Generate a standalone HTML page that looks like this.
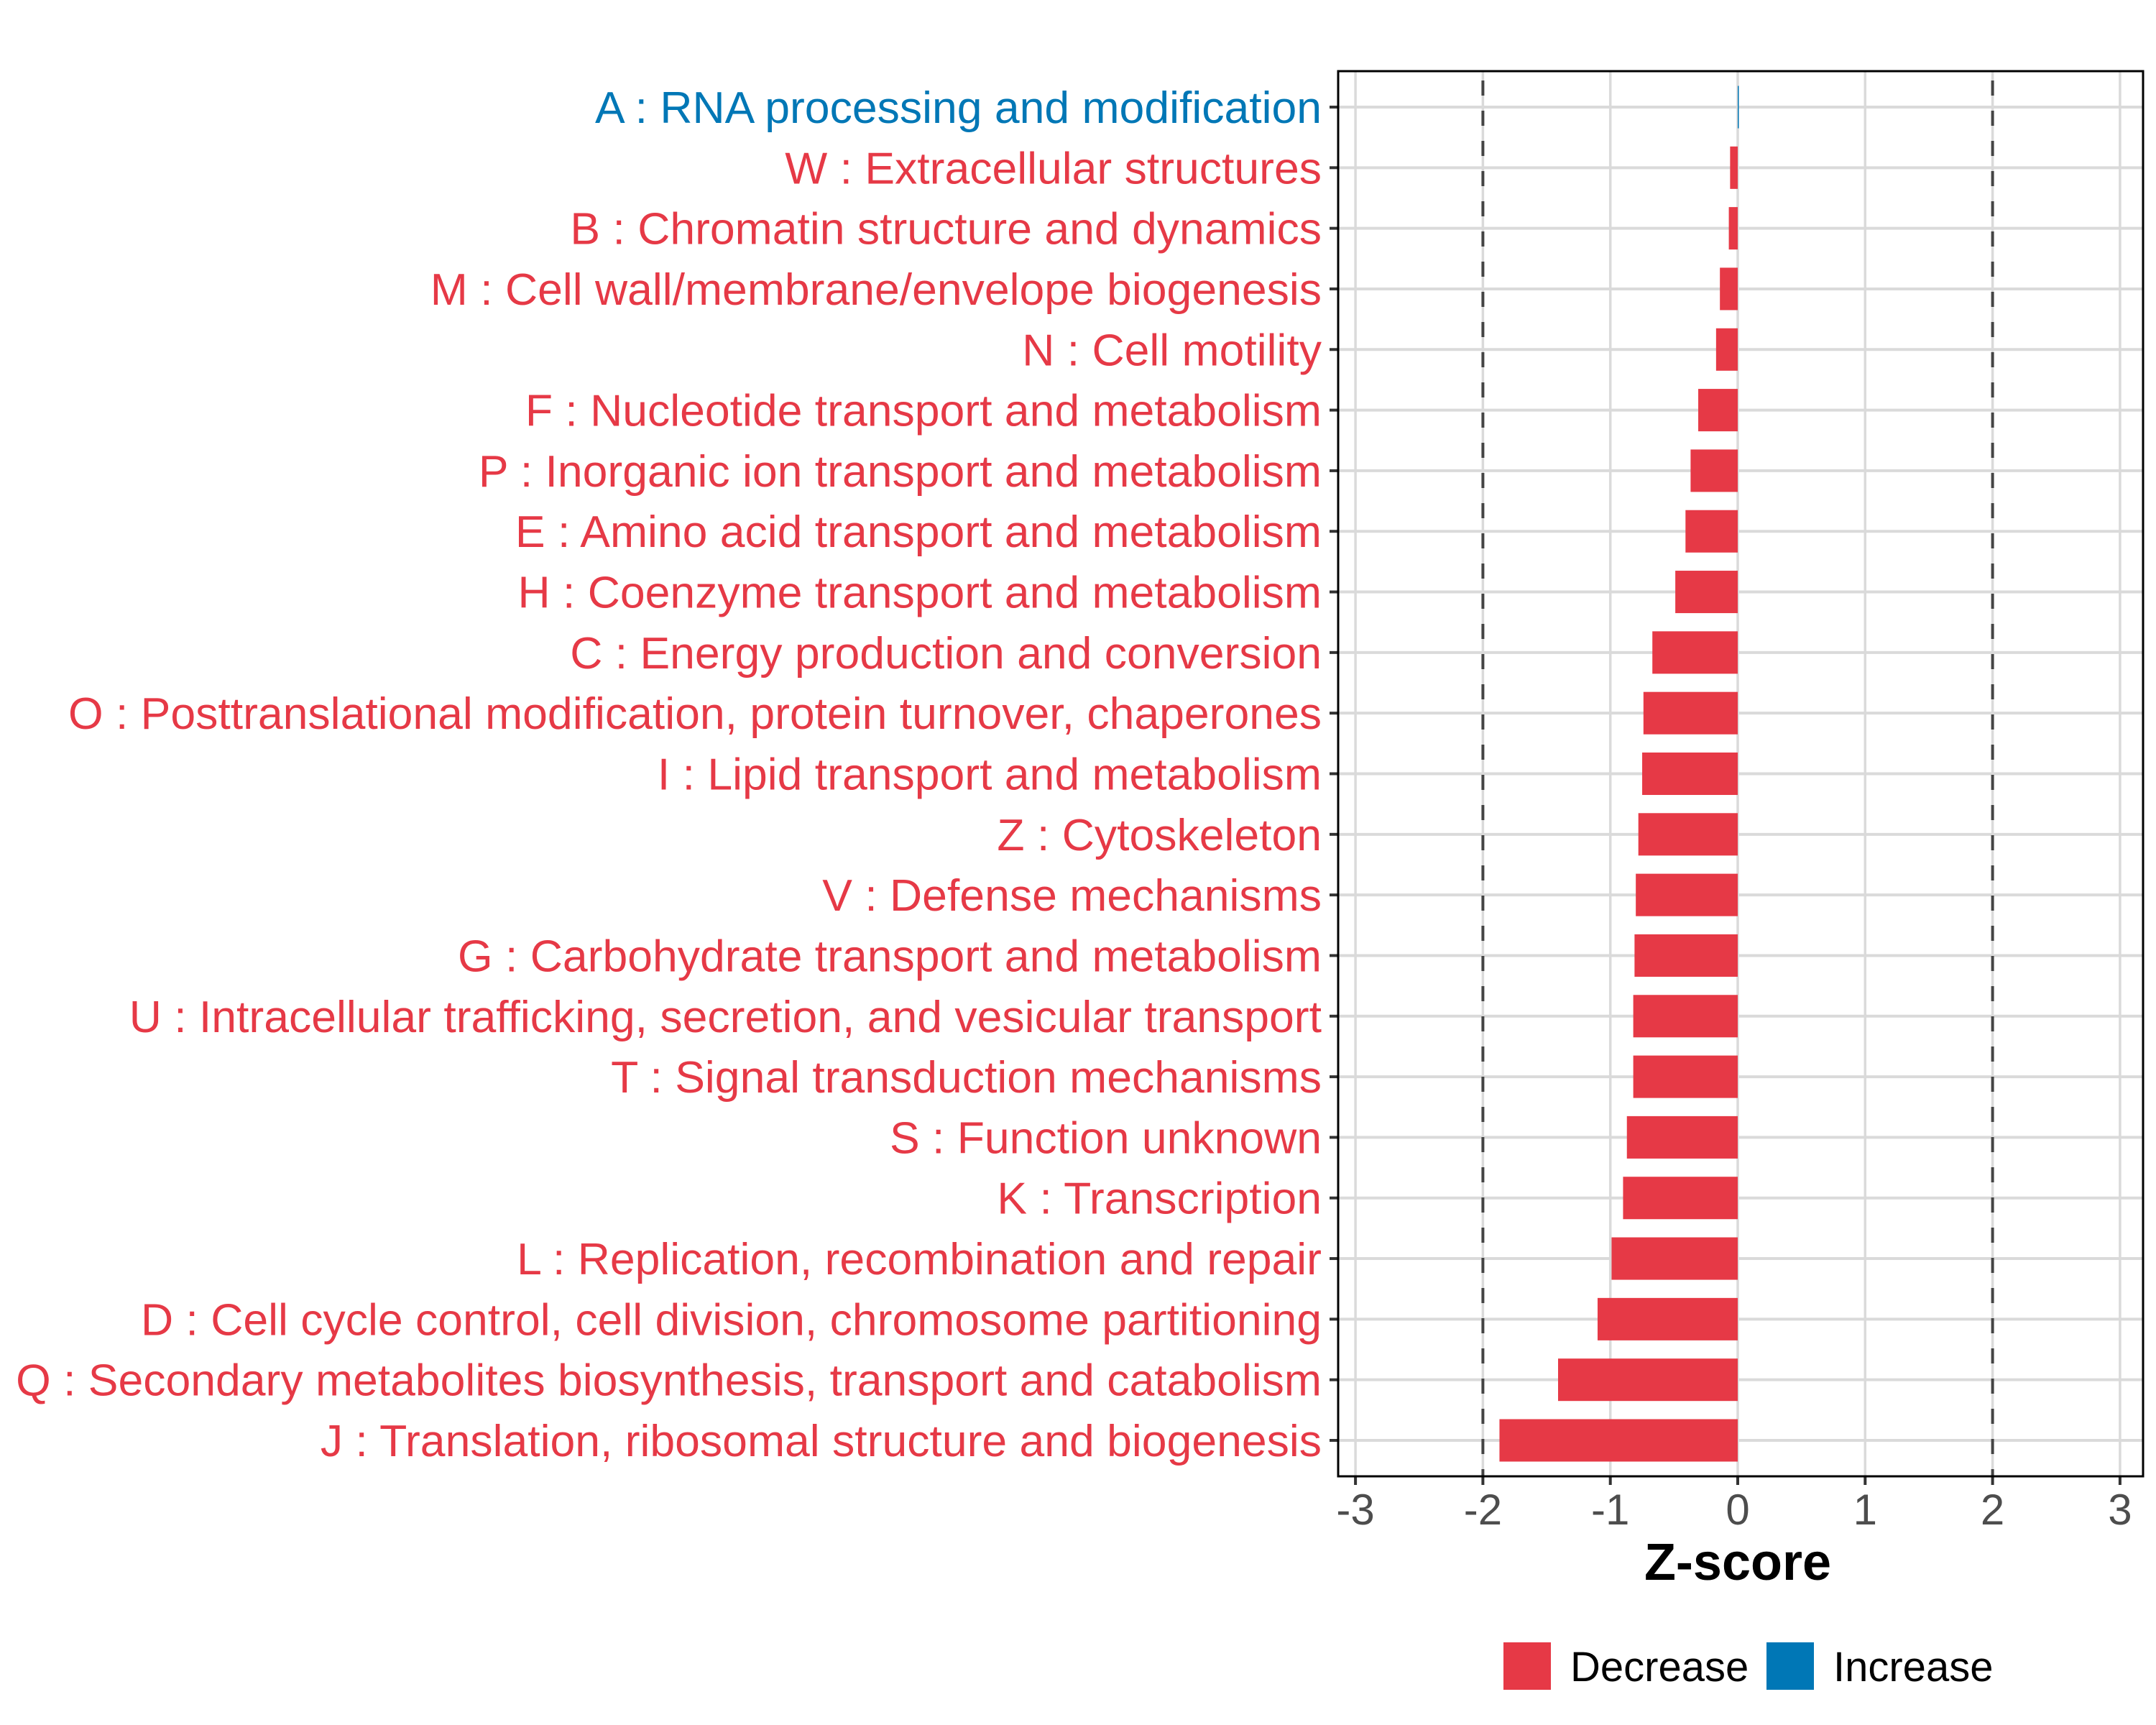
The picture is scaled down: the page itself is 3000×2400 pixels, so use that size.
<!DOCTYPE html>
<html><head><meta charset="utf-8"><style>
html,body{margin:0;padding:0;background:#fff;}
svg{display:block;font-family:"Liberation Sans",Arial,sans-serif;}
</style></head><body>
<svg id="chart" width="3000" height="2400" viewBox="0 0 3000 2400">
<g id="grid"></g>
<g id="bars"></g>
<g id="ylabels"></g>
<g id="xaxis"></g>
<text x="2418" y="2198" text-anchor="middle" font-size="72" font-weight="bold" fill="#000">Z-score</text>
<g>
<rect x="2092" y="2285" width="66" height="66" fill="#E63946"/>
<text x="2185" y="2339" font-size="58" fill="#000">Decrease</text>
<rect x="2458" y="2285" width="66" height="66" fill="#0077B6"/>
<text x="2551" y="2339" font-size="58" fill="#000">Increase</text>
</g>
</svg>
<script>
const categories = ["A : RNA processing and modification","W : Extracellular structures","B : Chromatin structure and dynamics","M : Cell wall/membrane/envelope biogenesis","N : Cell motility","F : Nucleotide transport and metabolism","P : Inorganic ion transport and metabolism","E : Amino acid transport and metabolism","H : Coenzyme transport and metabolism","C : Energy production and conversion","O : Posttranslational modification, protein turnover, chaperones","I : Lipid transport and metabolism","Z : Cytoskeleton","V : Defense mechanisms","G : Carbohydrate transport and metabolism","U : Intracellular trafficking, secretion, and vesicular transport","T : Signal transduction mechanisms","S : Function unknown","K : Transcription","L : Replication, recombination and repair","D : Cell cycle control, cell division, chromosome partitioning","Q : Secondary metabolites biosynthesis, transport and catabolism","J : Translation, ribosomal structure and biogenesis"];
const zscores = [0.005,-0.06,-0.07,-0.14,-0.17,-0.31,-0.37,-0.41,-0.49,-0.67,-0.74,-0.75,-0.78,-0.80,-0.81,-0.82,-0.82,-0.87,-0.90,-0.99,-1.10,-1.41,-1.87];
const xTicks = [-3,-2,-1,0,1,2,3];
const xTickLabels = ["-3","-2","-1","0","1","2","3"];
const thresholds = [-2,2];

const NS="http://www.w3.org/2000/svg";
const P={left:1862,right:2982,top:99,bottom:2054};
const x0=2418, unit=177.3;
function xs(v){return x0+v*unit;}
const rowTop=149, rowStep=(2004-149)/(categories.length-1);
function ys(i){return rowTop+i*rowStep;}
function mk(tag,attrs,parent){const e=document.createElementNS(NS,tag);for(const k in attrs)e.setAttribute(k,attrs[k]);parent.appendChild(e);return e;}
const svg=document.getElementById('chart');
const grid=document.getElementById('grid'), bars=document.getElementById('bars'), yl=document.getElementById('ylabels'), xa=document.getElementById('xaxis');

categories.forEach((c,i)=>{
  const l=mk('line',{x1:P.left,x2:P.right,y1:ys(i),y2:ys(i),stroke:'#dadada','stroke-width':4},grid);
  
  
});
xTicks.forEach(t=>{
  const l=mk('line',{x1:xs(t),x2:xs(t),y1:P.top,y2:P.bottom,stroke:'#dadada','stroke-width':3.5},grid);
  
  
});
thresholds.forEach(t=>{
  const l=mk('line',{x1:xs(t),x2:xs(t),y1:P.top+13,y2:P.bottom,stroke:'#444','stroke-width':4,'stroke-dasharray':'21 21'},grid);
  
  
});
const bh=rowStep*0.7;
categories.forEach((c,i)=>{
  const v=zscores[i];
  const col=v>=0?'#0077B6':'#E63946';
  const x1=Math.min(xs(v),x0), w=Math.max(Math.abs(xs(v)-x0),1.5);
  const r=mk('rect',{x:x1,y:ys(i)-bh/2,width:w,height:bh,fill:col},bars);
  
  
  const t=mk('text',{x:1839,y:ys(i)+22,'text-anchor':'end','font-size':62.5,fill:col},yl);
  t.textContent=c;
  
  
  const tk=mk('line',{x1:P.left-12,x2:P.left,y1:ys(i),y2:ys(i),stroke:'#333','stroke-width':4},yl);
  
  
});
xTicks.forEach((t,i)=>{
  const tk=mk('line',{x1:xs(t),x2:xs(t),y1:P.bottom,y2:P.bottom+12,stroke:'#333','stroke-width':4},xa);
  
  
  const tl=mk('text',{x:xs(t),y:2121,'text-anchor':'middle','font-size':60,fill:'#4d4d4d'},xa);
  tl.textContent=xTickLabels[i];
  
  
});
const border=mk('rect',{x:P.left,y:P.top,width:P.right-P.left,height:P.bottom-P.top,fill:'none',stroke:'#000','stroke-width':3},svg);


</script>
</body></html>
